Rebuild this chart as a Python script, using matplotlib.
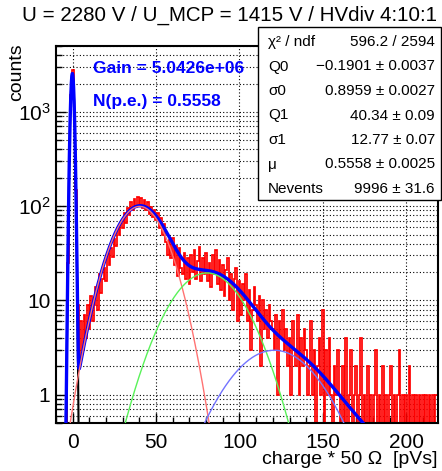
import numpy as np
import matplotlib
matplotlib.use("Agg")
import matplotlib.pyplot as plt
from matplotlib.ticker import FixedLocator, MultipleLocator, NullFormatter, FixedFormatter
from matplotlib.patches import Rectangle
from math import factorial

plt.rcParams['font.family'] = ['Liberation Sans', 'DejaVu Sans']
plt.rcParams['mathtext.fontset'] = 'custom'
plt.rcParams['mathtext.rm'] = 'Liberation Sans'
plt.rcParams['mathtext.it'] = 'Liberation Sans:italic'
plt.rcParams['mathtext.bf'] = 'Liberation Sans:bold'

# ---------------- data ----------------
title = "U = 2280 V / U_MCP = 1415 V / HVdiv 4:10:1"
first_bin = -10          # centre of first 1-unit bin
counts = [
    0, 0, 0, 0, 0, 0, 0, 25, 300, 1500,            # -10 .. -1
    2800, 1000, 150, 9, 2, 6, 3, 7, 4, 9,          # 0 .. 9
    5, 11, 6, 9, 14, 8, 19, 12, 17, 22,            # 10 .. 19
    16, 31, 24, 36, 29, 45, 38, 58, 50, 66,        # 20 .. 29
    58, 84, 66, 96, 80, 110, 90, 120, 98, 126,     # 30 .. 39
    104, 122, 96, 116, 90, 110, 82, 98, 76, 90,    # 40 .. 49
    72, 84, 58, 74, 50, 64, 42, 30, 44, 28,        # 50 .. 59
    46, 24, 38, 18, 36, 22, 19, 32, 17, 28,        # 60 .. 69
    15, 30, 20, 34, 17, 26, 37, 16, 28, 19,        # 70 .. 79
    32, 16, 25, 14, 30, 19, 34, 15, 27, 13,        # 80 .. 89
    24, 11, 21, 28, 10, 19, 8, 17, 22, 6,          # 90 .. 99
    16, 7, 15, 10, 19, 6, 13, 3, 8, 14,            # 100 .. 109
    9, 6, 11, 2, 10, 5, 8, 4, 9, 6,                # 110 .. 119
    5, 3, 7, 1, 6, 4, 8, 3, 5, 2,                  # 120 .. 129
    4, 1, 6, 3, 2, 7, 1, 4, 2, 5,                  # 130 .. 139
    3, 1, 2, 6, 1, 3, 0, 2, 4, 1,                  # 140 .. 149
    8, 0, 3, 1, 4, 1, 0, 2, 1, 3,                  # 150 .. 159
    1, 0, 2, 0, 4, 0, 1, 3, 0, 1,                  # 160 .. 169
    2, 0, 1, 4, 0, 1, 0, 2, 0, 1,                  # 170 .. 179
    0, 1, 3, 0, 1, 0, 2, 0, 1, 0,                  # 180 .. 189
    1, 2, 0, 1, 0, 1, 3, 0, 1, 0,                  # 190 .. 199
    1, 0, 2, 0, 1, 0, 1, 0, 1, 0,                  # 200 .. 209
    1, 0, 1, 0, 1, 0, 1, 0, 1,                     # 210 .. 218
]

# fit parameters (from the stats box)
par_names = ["\u03c7\u00b2 / ndf", "Q0", "\u03c30", "Q1", "\u03c31", "\u03bc", "Nevents"]
par_texts = ["596.2 / 2594", "\u22120.1901 \u00b1 0.0037", "0.8959 \u00b1 0.0027",
             "40.34 \u00b1 0.09", "12.77 \u00b1 0.07", "0.5558 \u00b1 0.0025", "9996 \u00b1 31.6"]
Q0, s0, Q1, s1, mu, Nev = -0.1901, 0.8959, 40.34, 12.77, 0.5558, 9996
gain_text = "Gain = 5.0426e+06"
npe_text = "N(p.e.) = 0.5558"

# ---------------- figure ----------------
W, H = 442, 471
fig = plt.figure(figsize=(W / 100, H / 100), dpi=100)
L, R, T, B = 56, 438, 46, 423
ax = fig.add_axes([L / W, 1 - B / H, (R - L) / W, (B - T) / H])
YMIN, YMAX = 0.5, 5000

counts = np.asarray(counts, float)
edges = np.arange(len(counts) + 1) + first_bin - 0.5
ax.stairs(np.maximum(counts, YMIN * 1.01), edges, color=(1, 0, 0), lw=1.25, zorder=2, baseline=None)

xs = np.linspace(-10, 220, 4601)

def comp(n, x):
    p = np.exp(-mu) * mu ** n / factorial(n)
    sig = np.sqrt(s0 ** 2 + n * s1 ** 2)
    m = Q0 + n * Q1
    return Nev * p * np.exp(-0.5 * ((x - m) / sig) ** 2) / (sig * np.sqrt(2 * np.pi))

total = sum(comp(n, xs) for n in range(0, 6))
ax.plot(xs, comp(0, xs), color='black', lw=1.5, zorder=3)
ax.plot(xs, total, color=(0, 0, 1), lw=2.4, zorder=4)
ax.plot(xs, comp(1, xs), color=(1, 0.45, 0.45), lw=1.0, zorder=5)
ax.plot(xs, comp(2, xs), color=(0.35, 0.95, 0.35), lw=1.0, zorder=5)
ax.plot(xs, comp(3, xs), color=(0.45, 0.45, 1), lw=1.0, zorder=5)

ax.set_yscale('log')
ax.set_xlim(-10, 219)
ax.set_ylim(YMIN, YMAX)

ax.xaxis.set_major_locator(FixedLocator([0, 50, 100, 150, 200]))
ax.xaxis.set_minor_locator(MultipleLocator(10))
ax.yaxis.set_major_locator(FixedLocator([1, 10, 100, 1000]))
ax.yaxis.set_major_formatter(FixedFormatter(["1", "10", "$10^{2}$", "$10^{3}$"]))
ax.yaxis.set_minor_locator(FixedLocator([m * 10.0 ** k for k in range(-1, 4) for m in range(2, 10)]))
ax.yaxis.set_minor_formatter(NullFormatter())

ax.tick_params(which='both', direction='in', top=False, right=False, labelsize=15, width=1)
ax.tick_params(which='major', length=7)
ax.tick_params(which='minor', length=4)
ax.tick_params(axis='x', pad=7)
ax.tick_params(axis='y', pad=4)

ax.grid(True, which='major', axis='x', color='black', lw=0.8, ls=(0, (1, 2)))
ax.grid(True, which='both', axis='y', color='black', lw=0.8, ls=(0, (1, 2)))
ax.set_axisbelow(True)
for sp in ax.spines.values():
    sp.set_linewidth(1.5)

ax.text(0.098, 0.94, gain_text, transform=ax.transAxes, color=(0, 0, 1),
        fontsize=12.5, fontweight='bold', va='center', ha='left')
ax.text(0.098, 0.853, npe_text, transform=ax.transAxes, color=(0, 0, 1),
        fontsize=12.5, fontweight='bold', va='center', ha='left')

fig.text(229.5 / W, 1 - 15 / H, title, ha='center', va='center', fontsize=14.8)
fig.text(437 / W, 1 - 460 / H, "charge * 50 \u03a9  [pVs]", ha='right', va='center', fontsize=14)
fig.text(17 / W, 1 - 43 / H, "counts", ha='center', va='top', rotation=90, fontsize=14)

# stats box
bx0, by0, bx1, by1 = 258, 27, 441, 200
fig.add_artist(Rectangle((bx0 / W, 1 - by1 / H), (bx1 - bx0) / W, (by1 - by0) / H,
                         transform=fig.transFigure, facecolor='white', edgecolor='black',
                         lw=1.0, zorder=10))
row_y = np.linspace(42, 189, len(par_names))
for nm, tx, yy in zip(par_names, par_texts, row_y):
    fig.text(268 / W, 1 - yy / H, nm, ha='left', va='center', fontsize=11, zorder=11)
    fig.text(435 / W, 1 - yy / H, tx, ha='right', va='center', fontsize=11, zorder=11)

fig.savefig("out.png", dpi=100)
